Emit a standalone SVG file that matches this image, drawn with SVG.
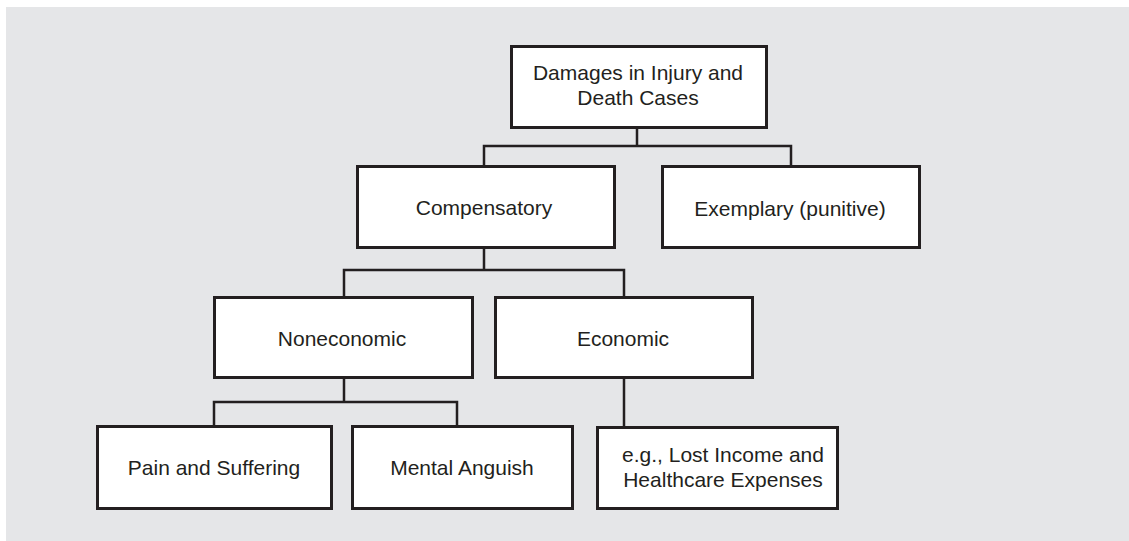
<svg xmlns="http://www.w3.org/2000/svg" width="1129" height="541" viewBox="0 0 1129 541">
<style>
.bx{fill:#fff;stroke:#231f20;stroke-width:3}
.ln{fill:none;stroke:#231f20;stroke-width:2.5}
text{font-family:"Liberation Sans",Arial,sans-serif;font-size:21px;fill:#231f20;text-anchor:middle}
</style>
<rect x="6" y="7" width="1123" height="534" fill="#e5e6e8"/>
<g id="connectors">
<path class="ln" d="M637 127V146M484 166V146H791V166"/>
<path class="ln" d="M484 248V270M344 297V270H624V297"/>
<path class="ln" d="M344 378V402M214 426V402H457V426"/>
<path class="ln" d="M624 378V427"/>
</g>
<g id="root">
<rect class="bx" x="511.5" y="46.5" width="255" height="81"/>
<text x="638" y="80">Damages in Injury and</text>
<text x="638" y="105">Death Cases</text>
</g>
<g id="compensatory">
<rect class="bx" x="357.5" y="166.5" width="257" height="81"/>
<text x="484" y="215">Compensatory</text>
</g>
<g id="exemplary">
<rect class="bx" x="662.5" y="166.5" width="257" height="81"/>
<text x="790" y="216">Exemplary (punitive)</text>
</g>
<g id="noneconomic">
<rect class="bx" x="214.5" y="297.5" width="258" height="80"/>
<text x="342" y="346">Noneconomic</text>
</g>
<g id="economic">
<rect class="bx" x="495.5" y="297.5" width="257" height="80"/>
<text x="623" y="346">Economic</text>
</g>
<g id="pain">
<rect class="bx" x="97.5" y="426.5" width="234" height="82"/>
<text x="214" y="475">Pain and Suffering</text>
</g>
<g id="mental">
<rect class="bx" x="352.5" y="426.5" width="220" height="82"/>
<text x="462" y="475">Mental Anguish</text>
</g>
<g id="examples">
<rect class="bx" x="597.5" y="427.5" width="240" height="81"/>
<text x="723" y="462">e.g., Lost Income and</text>
<text x="723" y="487">Healthcare Expenses</text>
</g>
</svg>
